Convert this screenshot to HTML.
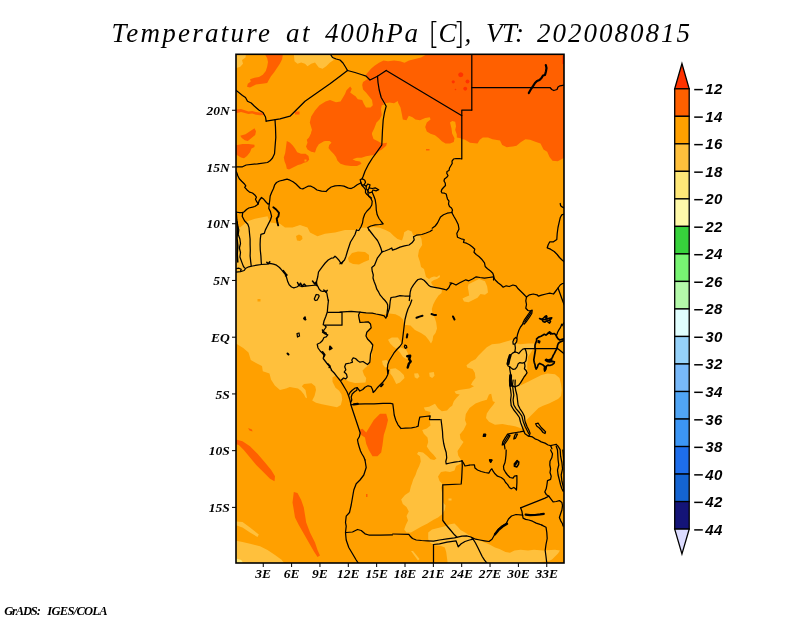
<!DOCTYPE html><html><head><meta charset="utf-8"><title>Temperature at 400hPa</title><style>html,body{margin:0;padding:0;background:#fff;width:800px;height:618px;overflow:hidden;font-family:"Liberation Sans",sans-serif}</style></head><body><svg width="800" height="618" viewBox="0 0 800 618" style="position:absolute;left:0;top:0;will-change:transform" shape-rendering="auto">
<defs><clipPath id="mc"><rect x="236" y="54.3" width="328" height="508.7"/></clipPath></defs>
<rect width="800" height="618" fill="#fff"/>
<g clip-path="url(#mc)">
<rect x="236" y="54.3" width="328" height="508.7" fill="#ffa000"/>
<polygon points="264.2,53.0 283.0,53.0 282.2,59.0 280.0,63.5 277.0,68.0 274.0,72.5 271.0,76.2 268.8,80.0 267.2,83.0 262.0,83.8 256.0,84.5 253.0,86.0 250.0,87.5 247.0,86.8 247.8,83.8 250.8,81.5 250.0,79.2 254.5,77.8 259.0,77.0 262.8,74.8 265.8,71.0 267.2,66.5 268.0,62.0 267.2,58.2" fill="#ff6000"/>
<polygon points="236.0,53.5 246.0,53.5 245.5,57.5 242.0,60.0 243.0,63.8 240.0,67.0 236.0,68.0" fill="#ffc03c"/>
<polygon points="293.8,53.5 331.2,53.5 333.8,60.0 330.0,62.5 326.2,66.2 322.5,68.8 318.8,67.5 315.0,62.5 311.2,63.8 307.5,66.2 305.0,63.8 301.2,62.5 297.5,63.8 294.5,61.2" fill="#ffc03c"/>
<polygon points="286.8,141.0 289.8,142.5 292.8,145.5 295.0,148.5 297.2,152.2 301.0,153.8 305.5,153.8 308.5,156.0 309.2,159.8 307.0,162.0 304.0,162.8 301.0,164.2 298.0,165.0 295.0,166.5 292.0,168.0 289.0,169.5 286.8,168.8 286.0,165.0 284.5,161.2 283.8,157.5 285.2,153.0 286.0,147.0" fill="#ff6000"/>
<polygon points="240.2,135.8 245.5,134.2 250.0,131.2 254.5,128.2 256.0,131.2 255.2,135.0 251.5,138.0 247.8,141.0 244.8,140.2 241.8,138.0" fill="#ff6000"/>
<polygon points="235.0,145.5 242.5,144.0 248.5,144.0 254.5,144.8 254.5,147.0 251.5,148.5 250.0,152.2 247.0,156.0 244.0,158.2 241.0,157.5 235.0,153.8" fill="#ff6000"/>
<polygon points="295.0,111.5 299.5,111.5 299.5,114.5 295.0,114.5" fill="#ff6000"/>
<polygon points="304.5,159.5 306.5,159.5 306.5,161.5 304.5,161.5" fill="#ffa000"/>
<polygon points="235.0,109.5 241.0,109.1 244.8,110.2 248.5,111.4 252.2,111.0 256.0,112.1 260.0,112.5 264.0,113.0 264.0,115.0 260.0,115.2 256.0,114.8 252.2,113.6 248.5,114.0 244.8,112.9 241.0,112.1 235.0,113.6" fill="#ff6000"/>
<polygon points="315.0,110.5 319.5,105.2 325.5,101.5 330.0,100.0 336.0,102.2 340.5,101.5 342.8,97.8 345.0,94.0 346.5,90.2 350.2,86.5 351.8,88.8 350.2,92.5 353.2,94.8 355.5,96.2 357.8,99.2 362.2,100.0 363.8,103.8 366.0,107.5 370.5,107.5 372.8,105.2 372.0,100.0 369.0,96.2 366.0,92.5 363.0,89.5 362.2,85.0 363.0,82.0 367.5,79.0 372.0,76.0 378.0,76.0 378.8,85.0 379.5,92.5 382.2,100.0 384.0,104.8 381.8,105.2 381.0,109.0 381.8,115.0 379.5,119.5 376.5,122.5 374.2,128.5 372.0,133.0 371.2,139.0 372.0,142.0 345.0,142.0 308.2,139.8 310.5,136.0 312.0,130.0 309.8,122.5 311.2,116.5" fill="#ff6000"/>
<polygon points="312.0,130.0 311.2,133.0 309.0,137.5 306.8,139.8 307.5,142.8 306.0,146.5 307.5,149.5 311.2,151.8 315.0,152.5 316.5,148.0 318.8,144.2 324.0,141.2 329.2,140.5 331.5,142.8 329.2,145.0 328.5,148.0 330.8,151.0 333.8,154.0 336.0,157.0 337.5,160.8 340.5,163.8 345.0,165.2 351.0,166.0 357.0,166.0 361.5,163.8 360.0,161.5 355.5,160.8 352.5,159.2 357.0,157.8 361.5,157.8 366.0,156.2 370.5,155.5 375.0,154.8 378.0,151.8 381.8,149.5 386.2,145.8 387.0,142.8 381.8,143.5 378.0,141.2 373.5,139.0 372.0,134.5 372.0,130.0" fill="#ff6000"/>
<polygon points="366.0,74.5 371.0,68.8 374.5,65.8 379.0,62.8 383.5,60.5 388.0,61.2 394.0,60.5 400.0,61.2 404.5,62.8 409.0,60.5 415.0,59.0 421.0,57.5 425.5,55.0 425.5,53.0 565.0,53.0 565.0,157.0 561.5,159.2 557.8,161.2 552.5,160.8 549.5,157.0 547.2,151.8 543.5,149.5 540.5,143.5 536.0,142.0 530.0,139.8 525.5,139.3 521.0,142.0 516.5,145.8 512.8,146.5 506.8,147.2 502.2,145.0 500.0,140.5 492.5,139.3 488.0,137.5 482.8,137.5 479.8,139.8 477.5,143.5 470.0,142.8 465.0,139.8 462.0,139.0 460.5,138.2 456.8,137.5 456.8,134.5 455.2,130.0 456.0,126.2 455.2,121.8 452.2,121.0 450.0,122.5 451.5,128.5 452.2,133.8 454.5,138.2 453.8,142.0 450.0,143.5 445.5,143.5 441.8,141.2 438.8,138.2 435.0,135.2 430.5,133.8 426.8,131.5 425.2,127.0 426.8,122.5 430.5,119.5 429.8,117.2 425.2,118.0 420.0,120.2 415.5,119.5 412.5,117.2 408.8,115.8 406.5,120.2 402.8,119.5 402.0,115.0 400.5,107.5 398.2,103.0 397.8,101.0 394.0,103.2 389.5,102.5 385.0,103.2 382.0,99.5 378.2,92.0 376.8,77.8 370.0,80.0" fill="#ff6000"/>
<polygon points="463.4,74.8 462.6,76.6 460.8,77.3 458.9,76.6 458.1,74.8 458.9,72.9 460.8,72.2 462.6,72.9" fill="#ff3200"/>
<polygon points="454.9,81.8 454.4,82.9 453.2,83.4 452.1,82.9 451.6,81.8 452.1,80.7 453.2,80.2 454.4,80.7" fill="#ff3200"/>
<polygon points="469.5,81.5 468.9,82.9 467.5,83.5 466.1,82.9 465.5,81.5 466.1,80.1 467.5,79.5 468.9,80.1" fill="#ff3200"/>
<polygon points="467.2,88.7 466.7,90.1 465.2,90.7 463.8,90.1 463.2,88.7 463.8,87.3 465.2,86.7 466.7,87.3" fill="#ff3200"/>
<polygon points="456.3,89.5 456.1,90.1 455.5,90.3 454.9,90.1 454.7,89.5 454.9,88.9 455.5,88.7 456.1,88.9" fill="#ff3200"/>
<polygon points="562.3,56.0 564.0,56.0 564.0,64.0 562.3,64.0" fill="#ff3200"/>
<polygon points="426.0,149.0 429.5,149.0 429.5,150.5 426.0,150.5" fill="#ff6000"/>
<polygon points="234.0,227.5 240.0,227.5 247.5,221.2 255.0,218.8 267.5,216.2 270.0,222.5 280.0,223.8 285.0,227.5 292.5,227.5 300.0,225.0 307.5,227.5 310.0,232.5 317.5,236.2 325.0,233.8 335.0,232.5 345.0,230.0 355.0,230.0 360.0,227.8 367.5,227.8 373.5,227.0 379.5,227.8 385.5,230.0 390.0,232.2 393.8,236.0 397.5,239.0 402.0,240.5 403.5,236.0 404.2,232.2 408.0,230.0 411.8,231.5 413.2,235.2 420.0,236.0 421.5,239.0 422.2,245.0 419.0,250.0 418.0,256.0 420.0,262.0 421.0,267.0 424.0,269.0 425.0,273.0 426.0,277.0 429.0,279.0 431.0,277.5 434.0,276.5 437.0,277.0 439.5,275.0 440.0,277.0 437.0,279.0 434.0,280.0 431.0,282.0 432.0,284.5 435.0,287.0 440.0,288.5 442.0,290.0 441.5,293.0 438.5,295.5 435.5,300.0 433.2,304.5 431.8,309.0 432.5,313.5 434.8,318.0 436.2,322.5 437.0,328.5 435.5,333.0 433.2,336.0 432.5,340.5 431.0,343.5 428.5,339.8 425.5,336.0 421.0,333.0 415.0,330.0 410.5,325.5 404.5,324.8 403.0,319.5 400.0,316.5 395.5,314.2 389.5,313.5 385.0,314.2 379.0,314.2 372.2,312.8 365.5,312.8 359.5,313.5 358.8,318.0 360.2,322.5 365.5,321.8 370.0,322.5 371.5,327.0 368.5,330.0 366.2,334.5 367.0,339.0 370.0,341.2 372.2,345.0 372.2,351.0 371.5,357.0 370.0,361.5 368.5,365.2 365.5,367.5 362.5,370.5 364.0,375.0 366.2,378.0 365.5,382.5 361.0,382.8 355.0,383.0 349.0,381.5 344.5,379.0 340.0,378.8 335.5,375.8 332.5,377.2 332.5,381.8 335.5,387.8 339.2,390.8 341.5,394.5 342.2,399.8 340.8,405.0 337.0,407.2 329.5,405.8 322.0,404.2 316.0,402.8 312.2,400.5 314.5,396.0 316.0,390.0 315.2,386.2 311.5,383.2 304.0,384.0 301.8,386.2 305.5,390.0 307.0,398.2 305.5,397.5 304.0,394.5 301.0,390.8 298.0,388.5 289.8,387.0 286.0,388.5 280.0,390.0 274.8,385.5 271.0,379.5 269.5,373.5 262.8,371.2 262.0,366.0 256.0,363.0 250.8,360.0 248.5,352.5 243.2,348.0 237.2,344.2 234.0,343.5" fill="#ffc03c"/>
<polygon points="296.0,236.0 299.0,234.5 302.0,236.0 302.5,239.0 300.0,241.0 297.0,240.5" fill="#ffa000"/>
<polygon points="348.0,258.0 352.0,253.0 358.0,251.5 365.0,252.0 369.0,255.0 369.0,260.0 364.0,262.0 359.0,264.5 353.0,264.0 349.0,262.0" fill="#ffa000"/>
<polygon points="257.5,299.0 260.5,299.0 260.5,301.5 257.5,301.5" fill="#ffa000"/>
<polygon points="423.8,407.5 429.0,406.8 435.0,403.8 438.0,408.2 441.8,411.2 447.0,410.5 450.0,407.2 452.2,405.8 453.8,401.2 456.8,397.5 459.8,394.5 456.0,393.8 454.5,391.5 459.0,390.0 464.2,389.2 469.5,388.5 474.0,386.2 471.0,384.8 472.5,381.8 475.5,378.0 474.8,372.8 472.5,369.0 467.2,367.5 466.5,365.2 471.0,361.5 475.5,359.2 478.5,355.5 483.0,351.0 486.8,347.2 492.0,344.2 499.5,343.5 507.0,341.2 512.2,339.8 516.0,343.5 520.5,344.2 528.0,343.5 534.0,343.5 535.5,345.0 531.8,351.0 528.0,357.0 527.2,364.5 527.2,372.0 523.5,376.5 520.5,381.8 520.5,385.5 528.0,381.8 535.5,378.0 541.5,375.0 547.5,373.5 555.0,374.2 559.5,378.0 561.0,384.0 561.8,390.0 561.0,396.0 558.0,399.0 553.5,401.2 549.0,403.5 543.0,405.8 538.5,408.0 535.5,411.0 532.5,414.0 529.5,417.0 526.5,420.0 525.0,422.5 522.5,428.8 515.0,426.2 507.5,425.0 502.5,424.0 495.0,424.8 489.0,421.8 486.0,418.0 486.8,413.5 489.8,409.0 493.5,404.5 495.0,402.0 492.8,401.2 492.0,397.5 491.2,393.8 489.0,394.5 486.8,399.8 481.5,401.2 475.5,403.5 469.5,408.0 465.8,414.0 465.0,420.0 466.5,424.0 463.5,430.0 459.8,434.5 460.5,439.0 463.5,442.0 460.5,446.5 457.5,451.0 458.2,455.5 461.2,460.0 462.0,463.0 456.0,466.0 454.5,470.5 450.0,472.0 445.5,471.2 441.0,472.0 438.0,476.5 439.5,481.0 442.5,484.0 441.0,487.5 442.5,495.0 443.2,502.5 445.5,505.5 444.8,510.0 441.8,514.5 438.0,517.5 433.5,519.8 427.5,523.5 421.5,526.5 416.2,529.5 411.0,532.5 406.5,532.5 404.2,529.5 405.8,525.0 408.0,520.5 406.5,516.0 408.8,511.5 406.5,507.0 402.8,504.0 401.2,499.5 405.0,495.0 409.5,492.0 411.0,486.0 411.8,484.0 413.2,479.5 415.5,475.0 417.0,470.5 419.2,466.0 420.8,461.5 420.0,456.2 417.0,454.0 418.5,451.8 423.0,452.5 427.5,456.2 430.5,459.2 434.2,460.0 436.5,458.5 433.5,454.8 429.8,451.0 426.8,446.5 428.2,442.0 427.5,437.5 423.8,433.8 422.2,430.0 426.8,428.5 430.5,425.5 429.8,421.0 429.8,415.0 430.5,412.0 425.2,410.5" fill="#ffc03c"/>
<polygon points="428.2,532.5 432.0,529.5 438.0,528.0 444.0,526.5 450.0,524.2 454.5,523.5 457.5,526.5 460.5,530.0 465.0,532.5 469.5,535.5 473.0,538.5 478.5,540.0 486.0,543.0 490.5,545.0 495.0,547.5 499.5,549.0 505.5,552.0 510.0,552.8 514.5,550.5 520.5,549.8 528.0,550.5 534.0,549.8 543.0,550.5 555.0,549.8 560.0,550.5 558.0,553.5 555.0,556.5 552.0,559.5 549.0,561.0 543.0,561.8 534.0,562.5 525.0,564.0 447.8,564.0 447.0,558.0 446.2,552.0 444.8,547.5 441.0,546.0 435.0,545.2 430.5,543.0 428.2,539.2" fill="#ffc03c"/>
<polygon points="448.5,498.5 451.5,498.5 451.5,500.5 448.5,500.5" fill="#ffc03c"/>
<polygon points="411.0,551.0 413.0,551.0 419.5,559.0 418.0,560.5" fill="#ffc03c"/>
<polygon points="468.5,284.2 473.0,282.0 479.0,279.0 485.0,281.2 487.2,286.5 488.0,292.5 485.0,294.8 480.5,294.0 477.5,297.8 473.0,300.0 468.5,302.2 464.0,301.5 462.5,298.5 465.5,297.0 469.2,295.5 468.5,291.0 467.8,287.2" fill="#ffc03c"/>
<polygon points="388.0,339.8 391.8,337.5 397.8,337.5 400.0,340.5 401.5,344.2 399.2,346.5 396.2,348.8 393.2,346.5 390.2,343.5" fill="#ffc03c"/>
<polygon points="400.0,347.2 406.0,349.5 408.2,354.0 406.8,359.2 403.0,357.0 400.0,352.5 397.8,350.2" fill="#ffc03c"/>
<polygon points="382.0,360.8 386.5,360.0 388.8,363.0 388.0,366.8 385.0,367.5 382.8,364.5" fill="#ffc03c"/>
<polygon points="390.2,369.0 395.5,368.2 400.0,371.2 403.8,375.0 404.5,378.0 402.2,380.2 400.0,382.5 396.2,384.0 394.8,381.0 392.5,376.5 390.2,373.5" fill="#ffc03c"/>
<polygon points="414.2,373.5 418.0,373.2 419.5,376.5 417.2,378.8 414.7,377.2" fill="#ffc03c"/>
<polygon points="429.2,372.8 433.8,372.0 434.5,375.8 432.2,378.0 429.7,376.5" fill="#ffc03c"/>
<polygon points="380.0,413.8 386.2,413.8 388.0,420.0 386.2,427.5 383.8,435.0 382.5,445.0 381.2,452.5 377.5,456.2 372.5,456.2 368.8,450.0 366.2,443.8 365.0,437.5 361.2,435.0 358.8,430.0 362.5,428.8 366.2,432.5 370.0,426.2 373.8,420.0" fill="#ff6000"/>
<polygon points="234.0,439.0 242.5,441.2 250.0,446.2 257.5,453.8 265.0,462.5 271.2,470.0 275.0,476.2 274.5,481.2 270.0,478.8 263.8,472.5 256.2,465.0 250.0,457.5 243.8,450.0 238.8,445.0 234.0,443.8" fill="#ff6000"/>
<polygon points="293.8,492.0 297.5,493.0 301.2,500.0 303.8,507.5 305.0,515.0 306.2,522.5 310.0,532.5 315.0,542.5 317.5,550.0 320.0,555.5 317.5,557.0 313.8,551.2 308.8,542.5 303.8,533.8 298.8,525.0 295.0,517.5 293.8,510.0 292.5,502.5" fill="#ff6000"/>
<polygon points="248.0,428.0 252.0,429.5 252.5,431.5 249.5,430.5" fill="#ff6000"/>
<polygon points="366.0,494.0 367.5,494.0 367.5,497.0 366.0,497.0" fill="#ff6000"/>
<polygon points="234.0,521.2 242.5,522.0 250.0,527.5 258.8,534.5 257.5,537.0 250.0,532.5 242.5,527.5 234.0,524.5" fill="#ffc03c"/>
<polygon points="234.0,540.5 242.5,542.0 250.0,543.8 260.0,546.2 267.5,550.0 275.0,555.0 281.2,559.5 285.0,564.0 234.0,564.0" fill="#ffc03c"/>
<polygon points="234.0,558.0 241.2,560.0 243.8,564.0 234.0,564.0" fill="#ffe878"/>
<polyline points="330.0,53.5 332.5,57.5 336.2,59.0 340.0,60.0 343.0,63.0 345.5,67.0 347.5,70.5" fill="none" stroke="#000" stroke-width="1.25" stroke-linejoin="round" stroke-linecap="round"/>
<polyline points="347.5,70.5 355.0,72.5 361.2,74.5 366.2,76.2 370.0,80.0 377.5,76.2 386.2,70.5" fill="none" stroke="#000" stroke-width="1.25" stroke-linejoin="round" stroke-linecap="round"/>
<polyline points="386.2,70.5 461.5,115.5" fill="none" stroke="#000" stroke-width="1.25" stroke-linejoin="round" stroke-linecap="round"/>
<polyline points="347.5,70.5 340.0,76.2 330.0,83.8 317.5,92.5 305.0,101.2 297.5,108.8 290.0,116.2 280.0,118.8 266.2,121.2" fill="none" stroke="#000" stroke-width="1.25" stroke-linejoin="round" stroke-linecap="round"/>
<polyline points="266.2,121.2 265.5,117.0 263.0,112.5 258.8,110.0 254.5,106.2 251.2,103.0 247.5,101.2 245.5,97.5 242.5,95.5 235.0,89.5" fill="none" stroke="#000" stroke-width="1.25" stroke-linejoin="round" stroke-linecap="round"/>
<polyline points="275.0,119.8 275.5,127.5 275.8,137.5 275.0,147.5 274.5,153.8 272.5,158.0 270.0,160.8 267.5,162.5 257.5,163.8 246.2,165.0 242.5,166.8 235.0,167.0" fill="none" stroke="#000" stroke-width="1.25" stroke-linejoin="round" stroke-linecap="round"/>
<polyline points="377.5,76.2 378.0,82.5 379.2,90.0 381.2,97.5 386.2,106.2 384.5,112.5 383.2,120.0 382.5,130.0 381.8,145.0 377.5,151.2 372.5,158.0 368.8,163.8 365.0,171.2 363.2,176.2 362.0,178.8" fill="none" stroke="#000" stroke-width="1.25" stroke-linejoin="round" stroke-linecap="round"/>
<polyline points="471.8,53.5 471.8,110.0" fill="none" stroke="#000" stroke-width="1.25" stroke-linejoin="round" stroke-linecap="round"/>
<polyline points="471.8,87.5 550.0,87.5 551.8,89.5 553.8,90.5 557.0,89.5 558.0,87.0 560.0,85.8 565.0,85.0" fill="none" stroke="#000" stroke-width="1.25" stroke-linejoin="round" stroke-linecap="round"/>
<polyline points="461.8,115.5 461.8,110.0 471.8,110.0" fill="none" stroke="#000" stroke-width="1.25" stroke-linejoin="round" stroke-linecap="round"/>
<polyline points="461.8,115.5 461.8,159.0 459.5,158.5 456.0,158.5 453.5,159.0 452.0,161.0 452.2,163.5 451.0,165.5 449.5,168.0 449.0,170.5 447.0,171.5 446.8,173.5 448.0,175.5 446.5,177.5 444.5,179.0 444.0,181.0 445.2,183.0 445.5,185.5 443.5,187.5 441.8,189.5 441.2,191.5 442.0,193.0 444.5,193.2 446.2,194.0 446.8,196.5 447.5,199.0 449.0,201.0 448.5,204.0 449.5,206.5 451.5,208.0 452.5,210.0 451.8,212.5" fill="none" stroke="#000" stroke-width="1.25" stroke-linejoin="round" stroke-linecap="round"/>
<polyline points="545.8,65.0 546.5,68.0 546.0,71.2 545.0,75.0 543.0,75.5 541.5,78.0 539.5,80.0 537.0,81.0 535.0,83.0 533.0,86.2 531.2,88.8 528.8,93.0" fill="none" stroke="#000" stroke-width="2.2" stroke-linejoin="round" stroke-linecap="round"/>
<polyline points="234.5,169.0 236.8,172.8 237.8,175.8 239.3,178.8 241.7,181.3 244.2,183.7 245.8,185.8 244.7,187.3 246.8,189.7 249.5,192.1 252.5,193.0 254.8,194.9 256.4,197.2 255.5,199.3 256.7,201.7 258.2,203.8" fill="none" stroke="#000" stroke-width="1.25" stroke-linejoin="round" stroke-linecap="round"/>
<polyline points="258.2,203.8 257.0,205.0 254.8,206.5 252.5,207.2 248.8,208.0 246.5,209.5 244.2,211.8 242.8,212.5 239.0,212.5 234.5,211.8" fill="none" stroke="#000" stroke-width="1.25" stroke-linejoin="round" stroke-linecap="round"/>
<polyline points="258.2,203.8 259.2,200.5 261.5,197.5 263.8,199.3 266.0,202.0 268.2,204.2 269.3,203.5" fill="none" stroke="#000" stroke-width="1.25" stroke-linejoin="round" stroke-linecap="round"/>
<polyline points="269.3,203.5 269.8,199.8 270.2,196.0 271.7,192.2 273.5,188.5 274.7,184.8 276.5,182.5 279.5,181.0 283.2,180.2 287.0,179.2 290.0,180.2 293.0,181.8 296.0,184.0 298.2,186.2 300.5,188.5 302.8,188.9 305.0,187.8 308.0,186.2 311.0,186.2 314.0,187.8 317.0,190.0 321.5,191.2 326.0,191.5 328.2,189.2 331.2,187.0 335.0,185.8 339.5,185.5 344.0,186.2 347.8,187.8 350.0,188.5" fill="none" stroke="#000" stroke-width="1.25" stroke-linejoin="round" stroke-linecap="round"/>
<polyline points="234.5,272.3 240.5,271.7 244.2,270.5 245.8,268.2 248.8,266.8 252.5,266.0 257.0,265.2 261.5,264.5 266.8,264.2 269.8,263.3 273.5,264.2 276.5,265.2 279.5,267.5 281.8,270.2 284.0,272.8 285.8,275.0 286.7,278.0 287.8,281.8 289.2,284.8 291.5,287.0 293.8,287.8 296.8,287.0 299.0,285.5 302.0,286.7 305.0,286.2 308.0,285.8 311.8,285.5 314.8,285.2 316.2,284.8 317.8,286.2 319.2,289.2 320.8,290.8 323.0,291.5 325.2,290.8 326.8,293.0 327.5,296.8 328.2,300.5" fill="none" stroke="#000" stroke-width="1.25" stroke-linejoin="round" stroke-linecap="round"/>
<polyline points="236.0,268.7 239.0,268.2 241.2,269.3 240.5,271.2" fill="none" stroke="#000" stroke-width="1.25" stroke-linejoin="round" stroke-linecap="round"/>
<polyline points="316.2,284.8 316.7,281.0 317.8,276.5 318.5,272.0 320.0,269.8 322.2,266.8 325.2,263.0 328.2,260.0 331.2,258.2 333.5,257.8 335.0,256.2 336.8,257.8 338.8,260.0 340.2,262.2 341.8,263.8 342.8,261.8" fill="none" stroke="#000" stroke-width="1.25" stroke-linejoin="round" stroke-linecap="round"/>
<polygon points="316.2,294.5 318.5,294.8 319.2,296.0 318.2,298.2 317.0,300.2 315.2,300.5 314.3,299.0 315.2,296.8" fill="none" stroke="#000" stroke-width="1.25" stroke-linejoin="round" stroke-linecap="round"/>
<polyline points="304.2,318.5 305.0,317.3" fill="none" stroke="#000" stroke-width="2" stroke-linejoin="round" stroke-linecap="round"/>
<polyline points="266.8,262.2 268.2,263.8 269.8,261.8" fill="none" stroke="#000" stroke-width="1.5" stroke-linejoin="round" stroke-linecap="round"/>
<polyline points="283.2,270.5 285.5,273.5 287.0,275.0 285.5,275.8" fill="none" stroke="#000" stroke-width="1.5" stroke-linejoin="round" stroke-linecap="round"/>
<polyline points="297.5,282.5 299.0,285.5 300.5,283.2 302.0,286.2 304.2,284.0 305.8,285.8" fill="none" stroke="#000" stroke-width="1.5" stroke-linejoin="round" stroke-linecap="round"/>
<polyline points="312.5,281.0 314.8,284.0 316.2,281.8 317.0,285.5" fill="none" stroke="#000" stroke-width="1.5" stroke-linejoin="round" stroke-linecap="round"/>
<polyline points="323.8,290.0 326.0,292.2 327.2,290.3" fill="none" stroke="#000" stroke-width="1.5" stroke-linejoin="round" stroke-linecap="round"/>
<polygon points="360.2,179.5 362.5,178.8 364.8,180.2 365.5,182.5 364.0,184.8 362.5,185.5 361.0,183.2" fill="none" stroke="#000" stroke-width="1.25" stroke-linejoin="round" stroke-linecap="round"/>
<polygon points="366.2,186.2 367.8,184.0 370.0,184.8 369.2,187.8 367.8,190.8 366.2,188.5" fill="none" stroke="#000" stroke-width="1.25" stroke-linejoin="round" stroke-linecap="round"/>
<polyline points="369.2,187.8 372.2,188.5 375.2,187.8 378.7,189.7 376.0,190.8 373.0,190.0 371.8,192.2 369.2,193.0 367.8,190.8" fill="none" stroke="#000" stroke-width="1.25" stroke-linejoin="round" stroke-linecap="round"/>
<polyline points="364.0,184.8 366.2,186.2" fill="none" stroke="#000" stroke-width="1.25" stroke-linejoin="round" stroke-linecap="round"/>
<polyline points="367.8,192.2 368.5,196.0 370.8,198.2 372.2,201.2 371.8,205.0 370.0,208.0 367.0,211.0 364.8,214.0 363.2,218.5 362.5,223.0 361.0,226.8 358.8,230.5 356.5,230.2" fill="none" stroke="#000" stroke-width="1.25" stroke-linejoin="round" stroke-linecap="round"/>
<polyline points="372.2,192.2 373.8,196.0 375.2,199.8 376.0,205.0 376.3,210.2 377.2,214.8 379.0,218.5 381.2,221.5 383.2,223.8 379.8,224.5 375.2,224.8 370.8,226.0 367.8,227.5 369.2,230.5" fill="none" stroke="#000" stroke-width="1.25" stroke-linejoin="round" stroke-linecap="round"/>
<polyline points="451.8,212.5 447.2,213.2 443.5,214.8 440.5,217.0 439.0,220.0 437.5,223.0 435.2,226.0 432.2,228.2" fill="none" stroke="#000" stroke-width="1.25" stroke-linejoin="round" stroke-linecap="round"/>
<polyline points="356.5,230.0 355.0,234.5 352.8,238.2 350.5,242.0 349.0,246.5 347.5,251.0 346.0,256.2 344.5,260.0 342.2,262.2 340.0,263.8" fill="none" stroke="#000" stroke-width="1.25" stroke-linejoin="round" stroke-linecap="round"/>
<polyline points="369.2,230.0 371.5,233.0 374.5,236.8 377.5,240.5 379.3,244.2 380.8,248.0 382.0,251.8" fill="none" stroke="#000" stroke-width="1.25" stroke-linejoin="round" stroke-linecap="round"/>
<polyline points="382.0,251.8 385.0,251.0 388.8,249.5 391.8,248.0 392.5,250.2 396.2,248.8 400.0,247.2 404.5,245.8 409.0,245.0 412.0,242.8 414.2,239.8 413.5,236.8 416.5,235.2 421.8,234.5 426.2,233.0 430.0,231.5 432.2,230.0" fill="none" stroke="#000" stroke-width="1.25" stroke-linejoin="round" stroke-linecap="round"/>
<polyline points="382.0,251.8 379.8,254.8 377.5,257.8 376.0,261.5 374.5,265.2 371.8,267.5 372.2,271.2 373.3,275.0 373.0,278.0 374.2,281.8 375.7,285.5 376.8,289.2 378.7,292.2 380.2,295.2 382.8,298.2 385.0,300.5 386.8,302.8 387.7,305.0 387.7,308.0 387.2,311.8 386.8,316.2" fill="none" stroke="#000" stroke-width="1.25" stroke-linejoin="round" stroke-linecap="round"/>
<polyline points="386.8,316.2 389.5,308.0 390.2,301.2 391.0,297.5 395.5,296.8 400.0,295.7 404.5,296.0 409.8,296.0" fill="none" stroke="#000" stroke-width="1.25" stroke-linejoin="round" stroke-linecap="round"/>
<polyline points="340.0,312.2 343.0,311.8 351.2,311.3 359.5,312.1 366.2,312.8 372.2,313.2 376.0,314.0 380.5,314.8 384.2,315.8 385.8,318.2 386.8,316.2" fill="none" stroke="#000" stroke-width="1.25" stroke-linejoin="round" stroke-linecap="round"/>
<polyline points="409.8,296.0 410.2,292.2 411.2,288.5 413.5,284.8 415.8,281.8 418.0,279.5 421.0,278.8 424.0,280.2 426.2,282.5 428.5,285.2 430.8,286.7 434.5,287.3 439.0,288.2 443.5,289.2 446.5,290.0 448.8,287.8 450.2,284.8 451.8,283.2" fill="none" stroke="#000" stroke-width="1.25" stroke-linejoin="round" stroke-linecap="round"/>
<polyline points="409.8,296.0 409.3,300.5" fill="none" stroke="#000" stroke-width="1.25" stroke-linejoin="round" stroke-linecap="round"/>
<polyline points="416.5,317.8 419.5,316.6 422.5,315.8" fill="none" stroke="#000" stroke-width="2" stroke-linejoin="round" stroke-linecap="round"/>
<polyline points="431.5,314.0 433.8,314.9 436.0,314.9" fill="none" stroke="#000" stroke-width="2" stroke-linejoin="round" stroke-linecap="round"/>
<polyline points="328.5,300.0 327.8,306.0 327.3,312.0 325.8,316.5 324.0,321.0 323.2,324.8 324.8,325.5 326.2,327.0 324.0,330.0 322.5,332.2 324.8,333.8 327.8,334.8 326.2,336.8 324.0,337.5 322.5,340.5 320.2,342.8 317.2,344.2 318.0,348.0 320.2,351.0 322.5,353.2 324.0,355.5 323.2,358.5 325.5,361.5 327.8,364.5 330.0,366.8 331.5,369.8" fill="none" stroke="#000" stroke-width="1.25" stroke-linejoin="round" stroke-linecap="round"/>
<polyline points="327.8,312.3 342.0,312.3 342.0,325.2 324.8,325.2" fill="none" stroke="#000" stroke-width="1.25" stroke-linejoin="round" stroke-linecap="round"/>
<polyline points="360.0,312.0 358.5,315.0 359.2,318.8 360.0,322.5 364.5,322.2 368.2,321.8 370.5,324.0 371.2,327.8 369.0,330.0 366.8,332.2 366.0,336.0 367.5,339.0 370.5,342.0 372.8,345.0 372.0,349.5 370.5,354.0 370.2,358.5 369.8,362.2 367.5,364.5 365.2,363.0 363.0,361.5 360.0,362.2 357.8,360.8 355.5,358.5 353.2,357.8 351.8,360.0 352.5,362.2 350.2,363.0 345.8,363.8 344.7,366.8 345.8,369.8 344.2,372.0 346.5,374.2 347.2,377.2 345.8,378.8 343.5,378.0 341.2,380.2" fill="none" stroke="#000" stroke-width="1.25" stroke-linejoin="round" stroke-linecap="round"/>
<polyline points="411.8,300.0 410.2,304.5 408.0,309.0 406.5,313.5 405.0,319.5 404.2,325.5 403.5,331.5 402.8,337.5 402.0,343.5 399.8,346.5 396.8,349.5 393.8,353.2 391.5,357.0 389.2,360.8 387.8,364.5 387.3,369.0 387.8,373.5" fill="none" stroke="#000" stroke-width="1.25" stroke-linejoin="round" stroke-linecap="round"/>
<polyline points="304.5,318.8 304.8,319.1" fill="none" stroke="#000" stroke-width="2.2" stroke-linejoin="round" stroke-linecap="round"/>
<polygon points="330.0,346.5 331.8,348.3 329.7,349.5" fill="none" stroke="#000" stroke-width="1.8" stroke-linejoin="round" stroke-linecap="round"/>
<polyline points="407.4,334.2 406.8,337.5" fill="none" stroke="#000" stroke-width="2" stroke-linejoin="round" stroke-linecap="round"/>
<polygon points="405.0,345.0 406.5,345.8 406.8,347.7 405.3,348.3 404.4,346.8" fill="none" stroke="#000" stroke-width="1.25" stroke-linejoin="round" stroke-linecap="round"/>
<polyline points="407.2,356.2 410.2,355.8 409.2,359.2 410.7,361.5 408.8,363.8 407.7,367.5" fill="none" stroke="#000" stroke-width="2.4" stroke-linejoin="round" stroke-linecap="round"/>
<polyline points="322.5,330.0 324.0,332.2 326.2,333.3" fill="none" stroke="#000" stroke-width="1.6" stroke-linejoin="round" stroke-linecap="round"/>
<polyline points="322.5,351.8 324.8,354.8 323.7,357.0" fill="none" stroke="#000" stroke-width="1.6" stroke-linejoin="round" stroke-linecap="round"/>
<polyline points="327.8,363.8 330.0,366.0 329.2,367.5" fill="none" stroke="#000" stroke-width="1.6" stroke-linejoin="round" stroke-linecap="round"/>
<polyline points="381.0,386.2 382.8,384.3" fill="none" stroke="#000" stroke-width="2" stroke-linejoin="round" stroke-linecap="round"/>
<polyline points="331.2,370.0 334.2,373.0 337.2,376.8 340.2,380.5 342.5,384.2 344.8,388.0 347.0,391.8 348.5,395.5 349.7,399.2 350.8,403.8 351.5,406.8 353.0,411.2 354.5,415.8 356.0,420.2 357.5,424.8 359.0,429.2 360.2,433.0 359.3,436.8 357.5,439.8 358.2,443.5 359.3,447.2 360.5,451.0 362.0,454.0 363.8,457.0 365.0,460.0" fill="none" stroke="#000" stroke-width="1.25" stroke-linejoin="round" stroke-linecap="round"/>
<polyline points="348.5,395.5 350.0,392.5 352.2,390.2 355.2,388.0 357.2,387.7 356.8,390.2 354.5,391.8 352.2,394.0 351.2,397.0 351.8,400.0 350.8,402.2" fill="none" stroke="#000" stroke-width="1.25" stroke-linejoin="round" stroke-linecap="round"/>
<polyline points="357.2,387.7 359.8,391.0 362.8,389.5 365.0,387.2 368.0,385.8 371.0,386.5 372.5,389.5 373.2,392.5 375.5,390.2 377.8,387.2 380.0,385.0 383.0,382.0 386.0,378.2 387.8,374.5 388.7,370.0" fill="none" stroke="#000" stroke-width="1.25" stroke-linejoin="round" stroke-linecap="round"/>
<polyline points="350.8,404.8 356.0,404.2 365.0,403.8 374.0,403.8 383.0,403.4 390.5,403.3 392.8,403.8 393.5,409.0 394.2,415.0 395.8,420.2 398.0,424.8 401.0,428.5 405.5,428.2 411.5,427.8 416.0,427.0 418.2,426.2 418.7,421.8 419.8,417.2 425.0,416.5 430.2,415.8 429.5,419.5 434.0,419.5 440.0,419.5" fill="none" stroke="#000" stroke-width="1.25" stroke-linejoin="round" stroke-linecap="round"/>
<polyline points="353.8,404.4 357.8,403.9" fill="none" stroke="#000" stroke-width="2.2" stroke-linejoin="round" stroke-linecap="round"/>
<polyline points="451.8,212.5 453.8,216.2 456.0,220.0 458.2,224.5 459.0,229.0 456.8,233.5 457.5,237.2 461.2,238.8 464.2,239.5 463.5,242.5 466.5,243.2 469.5,244.8 472.5,247.0 474.8,249.2 474.0,252.2 476.2,254.5 479.2,256.8 482.2,259.8 484.5,262.8 485.2,266.5 487.5,268.8 490.5,271.0 492.8,273.2 493.8,276.2 493.5,280.0" fill="none" stroke="#000" stroke-width="1.25" stroke-linejoin="round" stroke-linecap="round"/>
<polyline points="560.2,203.5 560.7,205.8 562.5,207.2 564.8,208.0" fill="none" stroke="#000" stroke-width="1.25" stroke-linejoin="round" stroke-linecap="round"/>
<polyline points="564.8,214.0 561.8,214.8 560.2,217.8 559.2,222.2 558.0,227.5 557.2,233.5 556.8,239.5 553.5,241.8 549.8,241.8 548.2,244.8 547.2,247.8 550.5,249.2 554.2,251.5 557.2,254.5 559.5,257.5 561.8,259.8 564.8,262.3" fill="none" stroke="#000" stroke-width="1.25" stroke-linejoin="round" stroke-linecap="round"/>
<polyline points="450.0,282.8 453.0,283.5 456.0,285.0 459.8,282.8 462.8,281.2 465.8,279.8 468.8,280.8 472.5,279.0 476.2,276.8 480.0,277.5 484.5,278.2 489.0,277.5 493.5,276.8" fill="none" stroke="#000" stroke-width="1.25" stroke-linejoin="round" stroke-linecap="round"/>
<polyline points="493.5,276.8 495.0,279.8 498.0,282.8 501.0,285.0 503.2,287.2 506.2,285.8 509.2,286.5 513.0,285.0 516.0,285.8 518.2,288.8 520.5,291.0 522.8,293.2 525.0,295.5 526.5,297.0" fill="none" stroke="#000" stroke-width="1.25" stroke-linejoin="round" stroke-linecap="round"/>
<polyline points="526.5,297.0 529.5,294.8 533.2,294.0 537.0,294.8 538.5,296.2 541.5,295.2 546.0,294.0 549.8,293.2 553.5,294.0 555.8,291.0 558.0,288.0 560.2,285.0 562.5,283.5 564.8,283.2" fill="none" stroke="#000" stroke-width="1.25" stroke-linejoin="round" stroke-linecap="round"/>
<polyline points="558.0,288.0 560.2,294.0 561.8,298.5 563.2,302.2 564.8,306.0" fill="none" stroke="#000" stroke-width="1.25" stroke-linejoin="round" stroke-linecap="round"/>
<polyline points="526.5,297.0 525.8,300.8 526.5,304.5 525.8,308.2 528.0,310.5 531.0,311.2" fill="none" stroke="#000" stroke-width="1.25" stroke-linejoin="round" stroke-linecap="round"/>
<polygon points="532.2,310.2 531.8,313.5 529.5,317.2 526.8,321.0 524.2,324.0 522.8,323.2 524.2,320.2 526.5,316.8 528.8,313.5 530.7,310.8" fill="none" stroke="#000" stroke-width="1.25" stroke-linejoin="round" stroke-linecap="round"/>
<polyline points="531.0,312.3 528.0,316.8 524.7,321.8" fill="none" stroke="#000" stroke-width="1.25" stroke-linejoin="round" stroke-linecap="round"/>
<polyline points="522.8,324.0 520.5,327.0 519.0,330.0 517.5,334.5 516.8,338.2" fill="none" stroke="#000" stroke-width="1.25" stroke-linejoin="round" stroke-linecap="round"/>
<polygon points="539.5,318.5 542.0,319.2 543.5,318.0 545.0,316.5 546.5,315.8 547.0,317.0 545.5,318.0 547.5,318.8 550.0,318.0 551.8,317.8 551.0,319.0 549.5,319.8 550.5,321.5 549.5,323.2 548.0,322.0 546.5,321.0 545.0,322.2 543.0,321.5 542.5,320.0 541.5,319.5" fill="none" stroke="#000" stroke-width="1.5" stroke-linejoin="round" stroke-linecap="round"/>
<polyline points="543.0,319.5 546.0,319.8 549.0,320.5" fill="none" stroke="#000" stroke-width="1.6" stroke-linejoin="round" stroke-linecap="round"/>
<polyline points="564.8,321.8 562.5,324.8 561.8,325.8" fill="none" stroke="#000" stroke-width="1.25" stroke-linejoin="round" stroke-linecap="round"/>
<polyline points="453.0,316.5 454.5,319.5" fill="none" stroke="#000" stroke-width="2" stroke-linejoin="round" stroke-linecap="round"/>
<polygon points="516.0,337.3 517.1,339.0 516.6,341.8 514.9,344.1 513.2,344.1 512.9,341.8 514.0,339.0" fill="none" stroke="#000" stroke-width="1.25" stroke-linejoin="round" stroke-linecap="round"/>
<polyline points="514.9,344.6 515.4,348.0 514.9,351.9" fill="none" stroke="#000" stroke-width="1.25" stroke-linejoin="round" stroke-linecap="round"/>
<polyline points="514.9,351.9 517.1,352.5 518.8,353.6 520.5,351.4 522.8,349.1 525.0,348.6 557.6,348.6 564.4,353.9" fill="none" stroke="#000" stroke-width="1.25" stroke-linejoin="round" stroke-linecap="round"/>
<polyline points="525.0,348.6 526.1,351.4 526.7,354.8 526.4,358.1 525.9,360.9 524.4,362.6" fill="none" stroke="#000" stroke-width="1.25" stroke-linejoin="round" stroke-linecap="round"/>
<polyline points="524.4,362.6 522.2,363.2 519.9,362.6 518.2,363.8 517.1,366.6 515.4,368.8 513.2,369.4 510.9,367.7 509.5,366.6" fill="none" stroke="#000" stroke-width="1.25" stroke-linejoin="round" stroke-linecap="round"/>
<polyline points="514.9,351.9 512.6,353.1 510.4,355.3 508.7,358.1 507.6,361.5 507.3,364.3 508.1,366.0 509.5,366.6" fill="none" stroke="#000" stroke-width="1.25" stroke-linejoin="round" stroke-linecap="round"/>
<polyline points="510.1,355.6 509.0,359.2 508.1,363.8" fill="none" stroke="#000" stroke-width="3" stroke-linejoin="round" stroke-linecap="round"/>
<polyline points="524.4,362.6 525.0,366.0 524.4,368.8 526.1,370.5 527.0,372.8 525.6,375.0 523.9,377.2 522.2,380.1 520.5,382.9 518.8,385.1 516.6,386.2 514.3,386.8 513.2,386.2" fill="none" stroke="#000" stroke-width="1.25" stroke-linejoin="round" stroke-linecap="round"/>
<polyline points="509.5,366.6 509.8,369.4 510.4,372.8 510.9,376.1 510.6,379.5 510.1,382.9 510.9,385.7 513.2,386.2" fill="none" stroke="#000" stroke-width="1.25" stroke-linejoin="round" stroke-linecap="round"/>
<polyline points="510.6,375.6 510.4,380.6 510.6,385.4" fill="none" stroke="#000" stroke-width="3" stroke-linejoin="round" stroke-linecap="round"/>
<polygon points="536.6,338.8 538.6,337.1 541.0,336.3 543.1,335.1 544.3,334.3 545.9,335.1 547.9,333.5 549.5,331.9 551.2,333.1 552.4,333.9 554.4,333.5 556.0,335.1 556.8,337.1 558.0,338.8 559.7,340.0 562.1,339.2 563.7,338.8 564.1,340.4 562.1,341.2 560.1,342.0 558.4,343.2 557.6,345.2 557.2,347.3 556.8,348.9 555.6,350.9 554.4,353.3 553.2,355.4 552.4,357.4 551.2,359.0 549.5,359.8 547.9,360.6 546.3,359.4 545.5,360.2 547.1,361.4 549.5,361.8 552.4,361.4 554.4,361.8 554.0,363.4 552.0,364.7 549.9,365.5 547.9,365.1 546.3,366.3 545.9,369.1 544.7,371.1 544.3,369.1 544.7,366.7 543.1,365.1 541.5,364.3 539.8,363.4 538.2,364.7 537.4,367.1 536.2,369.1 535.4,367.1 535.0,364.7 534.2,362.2 533.8,359.8 534.2,357.4 534.6,354.9 535.0,352.5 535.4,350.1 535.0,347.7 535.0,345.2 535.8,342.8 536.6,340.8" fill="none" stroke="#000" stroke-width="1.7" stroke-linejoin="round" stroke-linecap="round"/>
<polygon points="538.2,340.8 539.8,341.2 539.4,342.8 538.2,342.4" fill="none" stroke="#000" stroke-width="1.5" stroke-linejoin="round" stroke-linecap="round"/>
<polyline points="561.7,324.2 560.5,327.4 558.9,329.9 557.6,332.3 556.8,334.7 556.0,335.1" fill="none" stroke="#000" stroke-width="1.25" stroke-linejoin="round" stroke-linecap="round"/>
<polyline points="546.7,359.8 549.1,360.6 551.6,360.0" fill="none" stroke="#000" stroke-width="2.0" stroke-linejoin="round" stroke-linecap="round"/>
<polyline points="548.3,333.1 549.9,332.7 550.8,333.9" fill="none" stroke="#000" stroke-width="2.0" stroke-linejoin="round" stroke-linecap="round"/>
<polyline points="513.1,380.0 512.5,385.0 513.1,390.0 513.8,395.0 513.1,400.0 513.8,405.0 516.2,408.8 519.4,412.5 521.9,416.2 523.1,421.2 525.0,426.2 526.9,430.0 528.8,433.8" fill="none" stroke="#000" stroke-width="1.25" stroke-linejoin="round" stroke-linecap="round"/>
<polyline points="510.2,380.0 509.8,385.0 510.6,390.0 511.2,395.0 510.6,400.0 511.2,405.6 513.8,410.0 516.9,413.8 519.4,417.5 520.6,422.5 522.5,427.5 523.8,431.2" fill="none" stroke="#000" stroke-width="1.25" stroke-linejoin="round" stroke-linecap="round"/>
<polyline points="515.2,380.0 515.0,385.0 515.6,390.0 516.9,395.0 517.5,400.0 518.1,405.0 520.0,408.8 522.5,412.5 524.4,416.2 525.0,421.2 526.9,426.2 528.8,430.0 530.0,433.1" fill="none" stroke="#000" stroke-width="1.25" stroke-linejoin="round" stroke-linecap="round"/>
<polyline points="523.8,431.2 525.0,433.8 527.5,435.6 528.8,436.2 530.0,433.8" fill="none" stroke="#000" stroke-width="1.25" stroke-linejoin="round" stroke-linecap="round"/>
<polyline points="523.8,431.2 520.0,431.9 516.2,432.5 512.5,433.1 508.8,433.8 507.5,434.4" fill="none" stroke="#000" stroke-width="1.25" stroke-linejoin="round" stroke-linecap="round"/>
<polygon points="507.5,434.4 510.0,435.6 507.5,440.0 504.4,444.4 502.2,445.0 502.8,441.9 505.0,438.1" fill="none" stroke="#000" stroke-width="1.25" stroke-linejoin="round" stroke-linecap="round"/>
<polyline points="508.8,435.2 503.5,443.5" fill="none" stroke="#000" stroke-width="1.25" stroke-linejoin="round" stroke-linecap="round"/>
<polyline points="504.4,445.0 505.0,448.8" fill="none" stroke="#000" stroke-width="1.25" stroke-linejoin="round" stroke-linecap="round"/>
<polygon points="515.6,433.8 517.5,434.0 515.6,438.1 513.8,439.0 514.4,436.5" fill="none" stroke="#000" stroke-width="1.25" stroke-linejoin="round" stroke-linecap="round"/>
<polyline points="528.8,436.2 532.5,436.9 535.0,438.8 538.1,440.0 541.2,441.9 545.0,443.1 548.1,445.0 550.6,445.6 553.1,445.0 556.2,444.4" fill="none" stroke="#000" stroke-width="1.25" stroke-linejoin="round" stroke-linecap="round"/>
<polyline points="556.2,444.4 558.1,446.2 560.0,449.4" fill="none" stroke="#000" stroke-width="1.25" stroke-linejoin="round" stroke-linecap="round"/>
<polyline points="556.2,446.2 557.5,450.0" fill="none" stroke="#000" stroke-width="1.25" stroke-linejoin="round" stroke-linecap="round"/>
<polyline points="550.6,445.6 551.9,448.8" fill="none" stroke="#000" stroke-width="1.25" stroke-linejoin="round" stroke-linecap="round"/>
<polygon points="535.6,423.8 538.1,423.1 539.4,425.0 541.2,427.5 543.8,430.0 545.6,431.9 545.0,433.5 543.1,432.5 541.2,430.0 538.8,427.5 536.9,426.2" fill="none" stroke="#000" stroke-width="1.25" stroke-linejoin="round" stroke-linecap="round"/>
<polygon points="484.0,434.4 485.5,434.8 485.2,436.0 483.8,435.8" fill="none" stroke="#000" stroke-width="1.6" stroke-linejoin="round" stroke-linecap="round"/>
<polygon points="489.8,460.0 491.8,460.2 490.8,461.9" fill="none" stroke="#000" stroke-width="1.6" stroke-linejoin="round" stroke-linecap="round"/>
<polyline points="517.2,461.0 515.2,464.4" fill="none" stroke="#000" stroke-width="2.4" stroke-linejoin="round" stroke-linecap="round"/>
<polyline points="470.0,465.0 474.4,464.8 475.0,468.1 477.5,470.0 481.2,471.5 485.0,472.5 488.8,473.1 490.6,470.0 491.9,468.8 493.1,471.2 495.0,473.8 497.5,476.2 501.2,477.5 503.8,479.4 505.6,482.5 507.5,484.4 509.4,487.5 511.2,488.8 513.8,487.5 515.6,488.8 516.5,490.0 516.9,482.5 516.9,475.6 514.4,476.2 513.1,478.1 510.0,477.5 507.5,475.0 505.6,472.5 503.8,469.4 503.5,466.2 505.0,462.5 505.6,458.8 506.0,455.0 506.2,450.0" fill="none" stroke="#000" stroke-width="1.25" stroke-linejoin="round" stroke-linecap="round"/>
<polygon points="516.9,461.2 518.8,461.9 518.5,464.4 516.9,466.9 514.4,466.2 514.4,463.8" fill="none" stroke="#000" stroke-width="1.6" stroke-linejoin="round" stroke-linecap="round"/>
<polyline points="550.6,450.0 552.5,453.8 551.9,457.5 550.0,461.2 549.8,465.0 550.6,468.8 550.0,472.5 551.2,476.2 550.6,479.4 547.5,480.6 546.9,485.0 546.2,488.8 544.8,491.9 546.2,494.4 548.8,496.2" fill="none" stroke="#000" stroke-width="1.25" stroke-linejoin="round" stroke-linecap="round"/>
<polyline points="548.8,496.2 545.0,498.1 538.8,500.6 532.5,503.1 526.2,505.6 520.6,507.8" fill="none" stroke="#000" stroke-width="1.25" stroke-linejoin="round" stroke-linecap="round"/>
<polyline points="520.6,507.8 521.9,511.2 522.5,515.0 523.1,518.1 525.6,519.4 528.8,520.0 532.5,521.2 536.2,523.1 540.0,524.4 541.9,525.0" fill="none" stroke="#000" stroke-width="1.25" stroke-linejoin="round" stroke-linecap="round"/>
<polyline points="525.6,514.6 530.0,515.2 535.0,515.0 540.0,514.4 543.8,513.8" fill="none" stroke="#000" stroke-width="2.2" stroke-linejoin="round" stroke-linecap="round"/>
<polyline points="548.8,496.2 551.2,499.4 553.1,501.9 556.2,501.5 559.4,500.6 561.9,502.5 562.5,505.6 561.9,510.0 560.6,513.8 559.4,517.5 560.6,520.6 562.5,523.8 563.1,526.2" fill="none" stroke="#000" stroke-width="1.25" stroke-linejoin="round" stroke-linecap="round"/>
<polyline points="560.2,450.0 560.6,456.2 561.9,462.5 562.5,468.8 561.2,475.0 561.9,481.2 563.1,486.2 564.0,491.2" fill="none" stroke="#000" stroke-width="1.25" stroke-linejoin="round" stroke-linecap="round"/>
<polyline points="557.5,450.0 558.1,460.0 558.8,465.0 557.5,470.0 558.1,475.0 559.4,480.0 560.6,485.0 561.9,488.8 563.1,491.2" fill="none" stroke="#000" stroke-width="1.25" stroke-linejoin="round" stroke-linecap="round"/>
<polyline points="562.8,450.0 563.5,457.5 564.0,465.0" fill="none" stroke="#000" stroke-width="1.25" stroke-linejoin="round" stroke-linecap="round"/>
<polyline points="522.8,515.2 516.0,514.5 511.5,516.0 508.5,519.0 506.2,523.5 502.5,525.8 498.0,529.5 495.0,534.0 492.0,539.2 489.0,541.5 484.5,540.8 480.0,540.0 475.5,539.2 472.5,537.8" fill="none" stroke="#000" stroke-width="1.25" stroke-linejoin="round" stroke-linecap="round"/>
<polyline points="507.0,523.8 502.5,526.5 498.3,530.2 495.0,534.3" fill="none" stroke="#000" stroke-width="2.4" stroke-linejoin="round" stroke-linecap="round"/>
<polyline points="472.5,538.2 475.5,543.0 477.8,547.5 480.0,552.0 482.2,556.5 484.5,560.2 487.2,563.4" fill="none" stroke="#000" stroke-width="1.25" stroke-linejoin="round" stroke-linecap="round"/>
<polyline points="541.8,525.1 546.0,527.2 546.8,532.5 547.2,538.5 546.0,544.5 545.2,550.5 546.0,556.5 546.8,563.4" fill="none" stroke="#000" stroke-width="1.25" stroke-linejoin="round" stroke-linecap="round"/>
<polyline points="441.0,419.5 441.8,425.5 442.5,431.5 442.8,437.5 443.7,443.5 444.8,448.0 446.2,452.5 446.7,457.8 445.8,461.5 446.2,463.8 450.0,463.0 454.5,462.2 459.0,461.5 462.0,460.8" fill="none" stroke="#000" stroke-width="1.25" stroke-linejoin="round" stroke-linecap="round"/>
<polyline points="462.0,460.8 462.3,466.0 462.0,472.0 461.7,478.0 461.2,484.0 442.8,484.8" fill="none" stroke="#000" stroke-width="1.25" stroke-linejoin="round" stroke-linecap="round"/>
<polyline points="462.0,460.8 463.5,463.0 465.0,466.0 469.5,465.2" fill="none" stroke="#000" stroke-width="1.25" stroke-linejoin="round" stroke-linecap="round"/>
<polygon points="483.8,434.5 485.4,434.2 485.1,436.0 483.4,436.3" fill="none" stroke="#000" stroke-width="1.6" stroke-linejoin="round" stroke-linecap="round"/>
<polygon points="489.6,460.0 491.7,460.0 490.6,462.1" fill="none" stroke="#000" stroke-width="1.6" stroke-linejoin="round" stroke-linecap="round"/>
<polyline points="442.8,485.2 442.8,520.5 446.2,525.0 450.0,529.5 454.5,534.8 456.8,537.0" fill="none" stroke="#000" stroke-width="1.25" stroke-linejoin="round" stroke-linecap="round"/>
<polyline points="393.0,534.0 408.8,534.3 410.2,536.2 412.5,538.5 416.2,540.0 421.5,540.5 427.5,540.8 433.5,541.2 439.5,540.0 447.0,538.8 454.5,537.8 462.0,536.2 466.5,535.8 471.0,537.0 473.2,539.2" fill="none" stroke="#000" stroke-width="1.25" stroke-linejoin="round" stroke-linecap="round"/>
<polyline points="433.5,544.5 433.5,563.4" fill="none" stroke="#000" stroke-width="1.25" stroke-linejoin="round" stroke-linecap="round"/>
<polyline points="433.5,544.5 439.5,543.8 447.0,542.2 456.0,540.8 458.2,546.8 461.2,543.8 465.0,541.5 469.5,540.0 473.2,539.2" fill="none" stroke="#000" stroke-width="1.25" stroke-linejoin="round" stroke-linecap="round"/>
<polyline points="365.0,460.0 366.2,467.5 363.8,475.0 360.0,480.0 356.2,483.8 353.8,490.0 352.5,497.5 351.2,505.0 349.5,512.5 346.2,516.2 345.5,522.5 346.2,526.2 345.5,532.5 346.2,540.0 348.8,547.5 352.5,553.8 356.2,560.0 358.8,564.0" fill="none" stroke="#000" stroke-width="1.25" stroke-linejoin="round" stroke-linecap="round"/>
<polyline points="346.2,532.5 352.5,532.0 357.5,529.5 361.2,530.5 365.0,533.8 368.8,535.0 380.0,535.0 392.5,534.8" fill="none" stroke="#000" stroke-width="1.25" stroke-linejoin="round" stroke-linecap="round"/>
<polygon points="297.0,333.5 299.0,333.0 299.5,336.0 297.5,337.0" fill="none" stroke="#000" stroke-width="1.25" stroke-linejoin="round" stroke-linecap="round"/>
<polyline points="304.5,318.0 305.5,319.5" fill="none" stroke="#000" stroke-width="2" stroke-linejoin="round" stroke-linecap="round"/>
<polyline points="287.5,353.5 288.5,354.5" fill="none" stroke="#000" stroke-width="2" stroke-linejoin="round" stroke-linecap="round"/>
<polyline points="350.2,188.3 351.2,188.5 354.2,187.0 357.2,184.8 360.2,183.2 361.0,182.5" fill="none" stroke="#000" stroke-width="1.25" stroke-linejoin="round" stroke-linecap="round"/>
<polyline points="236.3,212.0 236.8,219.7 237.7,225.4 238.8,229.9 238.2,234.4 239.9,239.0 240.5,243.5 239.4,248.0 240.5,252.5 239.9,257.0 241.6,261.6 243.3,266.1 244.5,267.8" fill="none" stroke="#000" stroke-width="1.25" stroke-linejoin="round" stroke-linecap="round"/>
<polyline points="237.2,222.0 237.6,230.0 237.0,238.0 237.8,246.0 237.2,254.0 237.8,262.0" fill="none" stroke="#000" stroke-width="1.5" stroke-linejoin="round" stroke-linecap="round"/>
<polyline points="242.8,212.4 242.2,216.3 244.5,220.8 247.8,224.2 249.0,227.6 249.5,233.3 250.1,239.0 250.1,244.6 250.3,250.3 250.1,255.9 250.7,261.6 251.2,265.6" fill="none" stroke="#000" stroke-width="1.25" stroke-linejoin="round" stroke-linecap="round"/>
<polyline points="269.3,203.5 268.8,208.4 270.5,211.8 271.6,216.3 270.5,219.7 268.8,223.1 267.1,226.5 265.4,229.9 264.3,233.3 260.9,234.4 260.3,239.0 260.1,244.6 260.3,250.3 260.9,255.9 261.2,261.6 261.4,263.9" fill="none" stroke="#000" stroke-width="1.25" stroke-linejoin="round" stroke-linecap="round"/>
<polyline points="273.3,207.3 276.2,209.5 279.0,212.9 278.4,216.3 276.7,218.6 277.3,222.0 278.2,225.4" fill="none" stroke="#000" stroke-width="1.9" stroke-linejoin="round" stroke-linecap="round"/>
<polyline points="361.0,183.5 362.0,185.5 364.0,187.5 365.5,189.5 365.5,192.5 367.0,194.5 369.5,196.5 371.5,198.0" fill="none" stroke="#000" stroke-width="1.25" stroke-linejoin="round" stroke-linecap="round"/>
</g>
<rect x="236" y="54.3" width="328" height="508.7" fill="none" stroke="#000" stroke-width="1.6"/>
<text x="111.5" y="42.4" textLength="158.5" lengthAdjust="spacing" style="font-family:'Liberation Serif',serif;font-style:italic;font-size:27px" fill="#000">Temperature</text>
<text x="286" y="42.4" textLength="23.5" lengthAdjust="spacing" style="font-family:'Liberation Serif',serif;font-style:italic;font-size:27px" fill="#000">at</text>
<text x="325" y="42.4" textLength="93" lengthAdjust="spacing" style="font-family:'Liberation Serif',serif;font-style:italic;font-size:27px" fill="#000">400hPa</text>
<text x="486" y="42.4" textLength="38" lengthAdjust="spacing" style="font-family:'Liberation Serif',serif;font-style:italic;font-size:27px" fill="#000">VT:</text>
<text x="537" y="42.4" textLength="153" lengthAdjust="spacing" style="font-family:'Liberation Serif',serif;font-style:italic;font-size:27px" fill="#000">2020080815</text>
<path d="M436.4,21.6 H432.2 V47.2 H436.4" fill="none" stroke="#000" stroke-width="1.4"/>
<path d="M456.6,21.6 H460.8 V47.2 H456.6" fill="none" stroke="#000" stroke-width="1.4"/>
<text x="438.6" y="42.4" style="font-family:'Liberation Serif',serif;font-style:italic;font-size:27px" fill="#000">C</text>
<text x="464.5" y="42.4" style="font-family:'Liberation Serif',serif;font-style:italic;font-size:27px" fill="#000">,</text>
<line x1="232" y1="110.25" x2="236" y2="110.25" stroke="#000" stroke-width="1"/>
<text x="229.8" y="114.85" text-anchor="end" style="font-family:'Liberation Serif',serif;font-style:italic;font-weight:bold;font-size:13.5px" fill="#000">20N</text>
<line x1="232" y1="166.99" x2="236" y2="166.99" stroke="#000" stroke-width="1"/>
<text x="229.8" y="171.59" text-anchor="end" style="font-family:'Liberation Serif',serif;font-style:italic;font-weight:bold;font-size:13.5px" fill="#000">15N</text>
<line x1="232" y1="223.72" x2="236" y2="223.72" stroke="#000" stroke-width="1"/>
<text x="229.8" y="228.32" text-anchor="end" style="font-family:'Liberation Serif',serif;font-style:italic;font-weight:bold;font-size:13.5px" fill="#000">10N</text>
<line x1="232" y1="280.45" x2="236" y2="280.45" stroke="#000" stroke-width="1"/>
<text x="229.8" y="285.06" text-anchor="end" style="font-family:'Liberation Serif',serif;font-style:italic;font-weight:bold;font-size:13.5px" fill="#000">5N</text>
<line x1="232" y1="337.19" x2="236" y2="337.19" stroke="#000" stroke-width="1"/>
<text x="229.8" y="341.79" text-anchor="end" style="font-family:'Liberation Serif',serif;font-style:italic;font-weight:bold;font-size:13.5px" fill="#000">EQ</text>
<line x1="232" y1="393.93" x2="236" y2="393.93" stroke="#000" stroke-width="1"/>
<text x="229.8" y="398.53" text-anchor="end" style="font-family:'Liberation Serif',serif;font-style:italic;font-weight:bold;font-size:13.5px" fill="#000">5S</text>
<line x1="232" y1="450.66" x2="236" y2="450.66" stroke="#000" stroke-width="1"/>
<text x="229.8" y="455.26" text-anchor="end" style="font-family:'Liberation Serif',serif;font-style:italic;font-weight:bold;font-size:13.5px" fill="#000">10S</text>
<line x1="232" y1="507.39" x2="236" y2="507.39" stroke="#000" stroke-width="1"/>
<text x="229.8" y="512.00" text-anchor="end" style="font-family:'Liberation Serif',serif;font-style:italic;font-weight:bold;font-size:13.5px" fill="#000">15S</text>
<line x1="263.25" y1="563" x2="263.25" y2="567" stroke="#000" stroke-width="1"/>
<text x="263.25" y="577.5" text-anchor="middle" style="font-family:'Liberation Serif',serif;font-style:italic;font-weight:bold;font-size:13.5px" fill="#000">3E</text>
<line x1="291.60" y1="563" x2="291.60" y2="567" stroke="#000" stroke-width="1"/>
<text x="291.60" y="577.5" text-anchor="middle" style="font-family:'Liberation Serif',serif;font-style:italic;font-weight:bold;font-size:13.5px" fill="#000">6E</text>
<line x1="319.95" y1="563" x2="319.95" y2="567" stroke="#000" stroke-width="1"/>
<text x="319.95" y="577.5" text-anchor="middle" style="font-family:'Liberation Serif',serif;font-style:italic;font-weight:bold;font-size:13.5px" fill="#000">9E</text>
<line x1="348.30" y1="563" x2="348.30" y2="567" stroke="#000" stroke-width="1"/>
<text x="348.30" y="577.5" text-anchor="middle" style="font-family:'Liberation Serif',serif;font-style:italic;font-weight:bold;font-size:13.5px" fill="#000">12E</text>
<line x1="376.65" y1="563" x2="376.65" y2="567" stroke="#000" stroke-width="1"/>
<text x="376.65" y="577.5" text-anchor="middle" style="font-family:'Liberation Serif',serif;font-style:italic;font-weight:bold;font-size:13.5px" fill="#000">15E</text>
<line x1="405.00" y1="563" x2="405.00" y2="567" stroke="#000" stroke-width="1"/>
<text x="405.00" y="577.5" text-anchor="middle" style="font-family:'Liberation Serif',serif;font-style:italic;font-weight:bold;font-size:13.5px" fill="#000">18E</text>
<line x1="433.35" y1="563" x2="433.35" y2="567" stroke="#000" stroke-width="1"/>
<text x="433.35" y="577.5" text-anchor="middle" style="font-family:'Liberation Serif',serif;font-style:italic;font-weight:bold;font-size:13.5px" fill="#000">21E</text>
<line x1="461.70" y1="563" x2="461.70" y2="567" stroke="#000" stroke-width="1"/>
<text x="461.70" y="577.5" text-anchor="middle" style="font-family:'Liberation Serif',serif;font-style:italic;font-weight:bold;font-size:13.5px" fill="#000">24E</text>
<line x1="490.05" y1="563" x2="490.05" y2="567" stroke="#000" stroke-width="1"/>
<text x="490.05" y="577.5" text-anchor="middle" style="font-family:'Liberation Serif',serif;font-style:italic;font-weight:bold;font-size:13.5px" fill="#000">27E</text>
<line x1="518.40" y1="563" x2="518.40" y2="567" stroke="#000" stroke-width="1"/>
<text x="518.40" y="577.5" text-anchor="middle" style="font-family:'Liberation Serif',serif;font-style:italic;font-weight:bold;font-size:13.5px" fill="#000">30E</text>
<line x1="546.75" y1="563" x2="546.75" y2="567" stroke="#000" stroke-width="1"/>
<text x="546.75" y="577.5" text-anchor="middle" style="font-family:'Liberation Serif',serif;font-style:italic;font-weight:bold;font-size:13.5px" fill="#000">33E</text>
<text x="4.2" y="614.8" textLength="36.6" lengthAdjust="spacing" style="font-family:'Liberation Serif',serif;font-style:italic;font-weight:bold;font-size:12.5px" fill="#000">GrADS:</text>
<text x="47.25" y="614.8" textLength="60.4" lengthAdjust="spacing" style="font-family:'Liberation Serif',serif;font-style:italic;font-weight:bold;font-size:12.5px" fill="#000">IGES/COLA</text>
<polygon points="674.7,88.8 681.95,63.6 689.2,88.8" fill="#ff3200" stroke="#000" stroke-width="1.3" stroke-linejoin="miter"/>
<rect x="674.7" y="88.80" width="14.5" height="27.52" fill="#ff6000" stroke="#000" stroke-width="1.3"/>
<rect x="674.7" y="116.32" width="14.5" height="27.52" fill="#ffa000" stroke="#000" stroke-width="1.3"/>
<rect x="674.7" y="143.84" width="14.5" height="27.52" fill="#ffc03c" stroke="#000" stroke-width="1.3"/>
<rect x="674.7" y="171.36" width="14.5" height="27.52" fill="#ffe878" stroke="#000" stroke-width="1.3"/>
<rect x="674.7" y="198.88" width="14.5" height="27.52" fill="#fffaaa" stroke="#000" stroke-width="1.3"/>
<rect x="674.7" y="226.39" width="14.5" height="27.52" fill="#37d23c" stroke="#000" stroke-width="1.3"/>
<rect x="674.7" y="253.91" width="14.5" height="27.52" fill="#78f573" stroke="#000" stroke-width="1.3"/>
<rect x="674.7" y="281.43" width="14.5" height="27.52" fill="#b4faaa" stroke="#000" stroke-width="1.3"/>
<rect x="674.7" y="308.95" width="14.5" height="27.52" fill="#e1ffff" stroke="#000" stroke-width="1.3"/>
<rect x="674.7" y="336.47" width="14.5" height="27.52" fill="#96d2fa" stroke="#000" stroke-width="1.3"/>
<rect x="674.7" y="363.99" width="14.5" height="27.52" fill="#78b9fa" stroke="#000" stroke-width="1.3"/>
<rect x="674.7" y="391.51" width="14.5" height="27.52" fill="#50a5f5" stroke="#000" stroke-width="1.3"/>
<rect x="674.7" y="419.03" width="14.5" height="27.52" fill="#3c96f5" stroke="#000" stroke-width="1.3"/>
<rect x="674.7" y="446.54" width="14.5" height="27.52" fill="#1e6eeb" stroke="#000" stroke-width="1.3"/>
<rect x="674.7" y="474.06" width="14.5" height="27.52" fill="#1464d2" stroke="#000" stroke-width="1.3"/>
<rect x="674.7" y="501.58" width="14.5" height="27.52" fill="#141478" stroke="#000" stroke-width="1.3"/>
<polygon points="674.7,529.10 681.95,553.9 689.2,529.10" fill="#dcdcff" stroke="#000" stroke-width="1.3" stroke-linejoin="miter"/>
<line x1="694.2" y1="89.60" x2="702.8" y2="89.60" stroke="#000" stroke-width="1.5"/>
<text x="705.2" y="94.30" textLength="17.2" lengthAdjust="spacing" style="font-family:'Liberation Sans',sans-serif;font-style:italic;font-weight:bold;font-size:15px" fill="#000">12</text>
<line x1="694.2" y1="117.12" x2="702.8" y2="117.12" stroke="#000" stroke-width="1.5"/>
<text x="705.2" y="121.82" textLength="17.2" lengthAdjust="spacing" style="font-family:'Liberation Sans',sans-serif;font-style:italic;font-weight:bold;font-size:15px" fill="#000">14</text>
<line x1="694.2" y1="144.64" x2="702.8" y2="144.64" stroke="#000" stroke-width="1.5"/>
<text x="705.2" y="149.34" textLength="17.2" lengthAdjust="spacing" style="font-family:'Liberation Sans',sans-serif;font-style:italic;font-weight:bold;font-size:15px" fill="#000">16</text>
<line x1="694.2" y1="172.16" x2="702.8" y2="172.16" stroke="#000" stroke-width="1.5"/>
<text x="705.2" y="176.86" textLength="17.2" lengthAdjust="spacing" style="font-family:'Liberation Sans',sans-serif;font-style:italic;font-weight:bold;font-size:15px" fill="#000">18</text>
<line x1="694.2" y1="199.68" x2="702.8" y2="199.68" stroke="#000" stroke-width="1.5"/>
<text x="705.2" y="204.38" textLength="17.2" lengthAdjust="spacing" style="font-family:'Liberation Sans',sans-serif;font-style:italic;font-weight:bold;font-size:15px" fill="#000">20</text>
<line x1="694.2" y1="227.19" x2="702.8" y2="227.19" stroke="#000" stroke-width="1.5"/>
<text x="705.2" y="231.89" textLength="17.2" lengthAdjust="spacing" style="font-family:'Liberation Sans',sans-serif;font-style:italic;font-weight:bold;font-size:15px" fill="#000">22</text>
<line x1="694.2" y1="254.71" x2="702.8" y2="254.71" stroke="#000" stroke-width="1.5"/>
<text x="705.2" y="259.41" textLength="17.2" lengthAdjust="spacing" style="font-family:'Liberation Sans',sans-serif;font-style:italic;font-weight:bold;font-size:15px" fill="#000">24</text>
<line x1="694.2" y1="282.23" x2="702.8" y2="282.23" stroke="#000" stroke-width="1.5"/>
<text x="705.2" y="286.93" textLength="17.2" lengthAdjust="spacing" style="font-family:'Liberation Sans',sans-serif;font-style:italic;font-weight:bold;font-size:15px" fill="#000">26</text>
<line x1="694.2" y1="309.75" x2="702.8" y2="309.75" stroke="#000" stroke-width="1.5"/>
<text x="705.2" y="314.45" textLength="17.2" lengthAdjust="spacing" style="font-family:'Liberation Sans',sans-serif;font-style:italic;font-weight:bold;font-size:15px" fill="#000">28</text>
<line x1="694.2" y1="337.27" x2="702.8" y2="337.27" stroke="#000" stroke-width="1.5"/>
<text x="705.2" y="341.97" textLength="17.2" lengthAdjust="spacing" style="font-family:'Liberation Sans',sans-serif;font-style:italic;font-weight:bold;font-size:15px" fill="#000">30</text>
<line x1="694.2" y1="364.79" x2="702.8" y2="364.79" stroke="#000" stroke-width="1.5"/>
<text x="705.2" y="369.49" textLength="17.2" lengthAdjust="spacing" style="font-family:'Liberation Sans',sans-serif;font-style:italic;font-weight:bold;font-size:15px" fill="#000">32</text>
<line x1="694.2" y1="392.31" x2="702.8" y2="392.31" stroke="#000" stroke-width="1.5"/>
<text x="705.2" y="397.01" textLength="17.2" lengthAdjust="spacing" style="font-family:'Liberation Sans',sans-serif;font-style:italic;font-weight:bold;font-size:15px" fill="#000">34</text>
<line x1="694.2" y1="419.83" x2="702.8" y2="419.83" stroke="#000" stroke-width="1.5"/>
<text x="705.2" y="424.53" textLength="17.2" lengthAdjust="spacing" style="font-family:'Liberation Sans',sans-serif;font-style:italic;font-weight:bold;font-size:15px" fill="#000">36</text>
<line x1="694.2" y1="447.34" x2="702.8" y2="447.34" stroke="#000" stroke-width="1.5"/>
<text x="705.2" y="452.04" textLength="17.2" lengthAdjust="spacing" style="font-family:'Liberation Sans',sans-serif;font-style:italic;font-weight:bold;font-size:15px" fill="#000">38</text>
<line x1="694.2" y1="474.86" x2="702.8" y2="474.86" stroke="#000" stroke-width="1.5"/>
<text x="705.2" y="479.56" textLength="17.2" lengthAdjust="spacing" style="font-family:'Liberation Sans',sans-serif;font-style:italic;font-weight:bold;font-size:15px" fill="#000">40</text>
<line x1="694.2" y1="502.38" x2="702.8" y2="502.38" stroke="#000" stroke-width="1.5"/>
<text x="705.2" y="507.08" textLength="17.2" lengthAdjust="spacing" style="font-family:'Liberation Sans',sans-serif;font-style:italic;font-weight:bold;font-size:15px" fill="#000">42</text>
<line x1="694.2" y1="529.90" x2="702.8" y2="529.90" stroke="#000" stroke-width="1.5"/>
<text x="705.2" y="534.60" textLength="17.2" lengthAdjust="spacing" style="font-family:'Liberation Sans',sans-serif;font-style:italic;font-weight:bold;font-size:15px" fill="#000">44</text>
</svg></body></html>
